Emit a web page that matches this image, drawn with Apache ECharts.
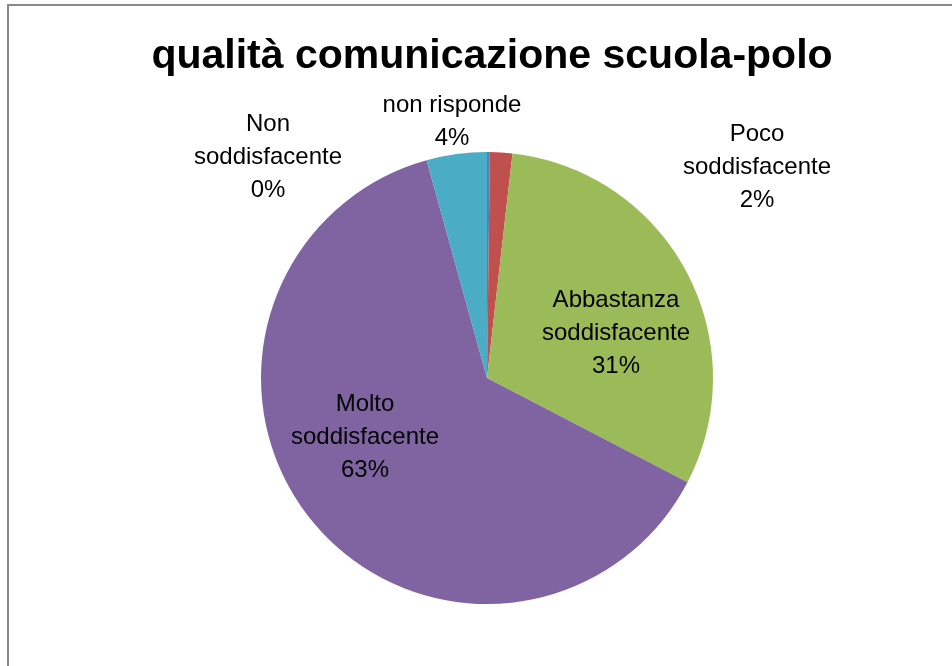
<!DOCTYPE html>
<html>
<head>
<meta charset="utf-8">
<script src="https://cdn.jsdelivr.net/npm/echarts@6/dist/echarts.min.js"></script>
<style>
html,body{margin:0;padding:0;background:#fff;overflow:hidden;}
#frame{position:absolute;left:7px;top:4px;width:2000px;height:2000px;border-left:2px solid #8a8a8a;border-top:2px solid #8a8a8a;}
#chart{position:absolute;left:0;top:0;width:952px;height:666px;}
</style>
</head>
<body>
<div id="frame"></div>
<div id="chart"></div>
<script>
const titleText = 'qualità comunicazione scuola-polo';
const categories = ['Non soddisfacente', 'Poco soddisfacente', 'Abbastanza soddisfacente', 'Molto soddisfacente', 'non risponde'];
const values = [0.2, 1.6, 30.8, 63.0, 4.3];
const colors = ['#4F81BD', '#C0504D', '#9BBB59', '#8064A2', '#4BACC6'];

// layout (pixels)
const CX = 487, CY = 378, R = 226;
const labelOffsets = [[-219, -221], [270, -211], [129, -45], [-122, 59], [-35, -256]];

const total = values.reduce((a, b) => a + b, 0);
const chart = echarts.init(document.getElementById('chart'), null, {renderer: 'canvas'});
chart.setOption({
  animation: false,
  backgroundColor: 'transparent',
  title: {
    text: titleText,
    left: CX,
    textAlign: 'center',
    top: 31,
    textStyle: {fontFamily: 'Liberation Sans', fontWeight: 'bold', fontSize: 41, color: '#000'}
  },
  series: [{
    type: 'pie',
    center: [CX, CY],
    radius: R,
    startAngle: 90,
    clockwise: true,
    avoidLabelOverlap: false,
    data: categories.map((c, i) => ({name: c, value: values[i], itemStyle: {color: colors[i]}})),
    itemStyle: {borderWidth: 0},
    label: {
      show: true,
      position: 'outside',
      color: '#000',
      fontFamily: 'Liberation Sans',
      fontSize: 24,
      lineHeight: 33,
      align: 'center',
      formatter: function (p) {
        const nm = p.name === 'non risponde' ? p.name : p.name.replace(' ', '\n');
        return nm + '\n' + Math.round(p.value / total * 100) + '%';
      }
    },
    labelLine: {show: false},
    labelLayout: function (p) {
      const o = labelOffsets[p.dataIndex];
      return {x: CX + o[0], y: CY + o[1], align: 'center', verticalAlign: 'middle'};
    },
    emphasis: {disabled: true}
  }]
});
</script>
</body>
</html>
